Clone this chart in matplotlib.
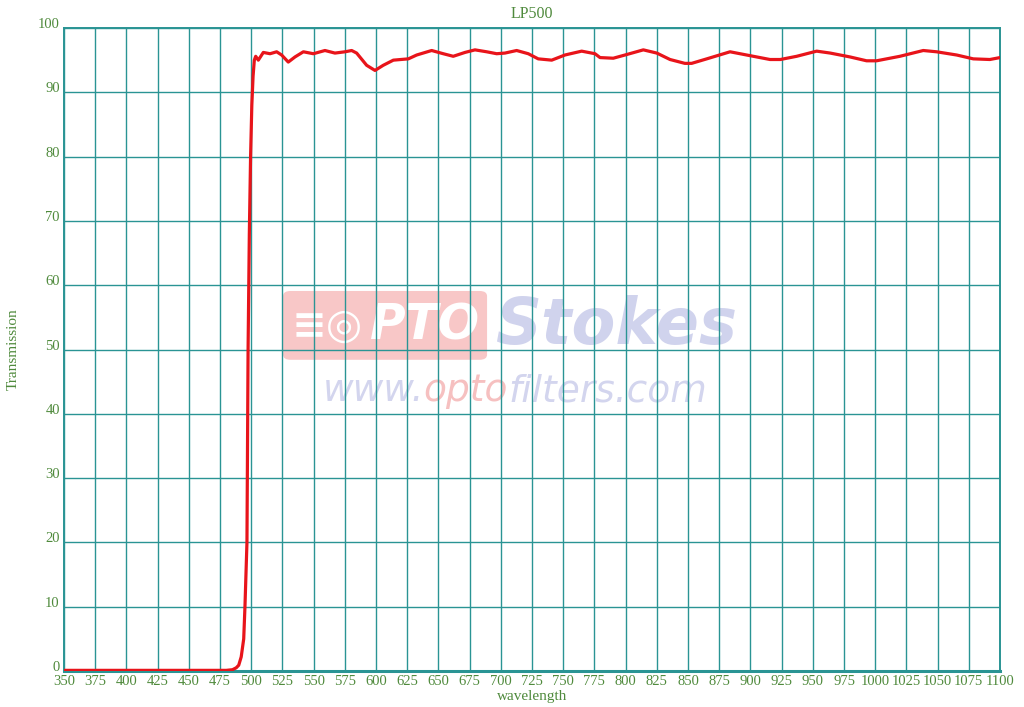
import numpy as np
import matplotlib
matplotlib.use("Agg")
import matplotlib.pyplot as plt
from matplotlib.patches import FancyBboxPatch

# transmission curve
wavelength = [350, 400, 450, 480, 485, 488, 490, 492, 494, 495,
              496.6, 497.5, 498.5, 499.5, 500.5, 501.5, 502.5, 503.6, 505.7, 509.7,
              515.1, 520.4, 524.4, 529.7, 535.1, 541.8, 549.8, 559.1, 567.1, 575.2,
              580.5, 584.5, 592.5, 599.2, 605.8, 613.9, 625.9, 632.6, 644.6, 653.9,
              661.9, 671.3, 679.3, 688.7, 696.7, 703.3, 712.7, 722.0, 730.0, 740.8,
              751.4, 764.8, 775.5, 779.5, 790.1, 799.5, 814.2, 825, 835.6, 847.5,
              852.9, 865.0, 883.7, 897.0, 915.7, 924, 937.1, 953.1, 964, 979.8,
              993.1, 1001.1, 1019.8, 1038.5, 1049.2, 1065.3, 1078.6, 1091.9, 1100]
transmission = [0.1, 0.1, 0.1, 0.1, 0.2, 0.5, 0.9, 2.2, 5.0, 10.0,
                20.0, 50.0, 68.0, 80.0, 88.0, 92.5, 95.0, 95.6, 95.0, 96.2,
                96.0, 96.3, 95.8, 94.7, 95.5, 96.3, 96.0, 96.5, 96.1, 96.3,
                96.5, 96.1, 94.2, 93.4, 94.2, 95.0, 95.2, 95.8, 96.5, 96.0,
                95.6, 96.2, 96.6, 96.3, 96.0, 96.1, 96.5, 96.0, 95.2, 95.0,
                95.8, 96.4, 96.0, 95.4, 95.3, 95.8, 96.6, 96.1, 95.1, 94.5,
                94.5, 95.2, 96.3, 95.8, 95.1, 95.1, 95.6, 96.4, 96.1, 95.5,
                94.9, 94.9, 95.6, 96.5, 96.3, 95.8, 95.2, 95.1, 95.4]

xticks = list(range(350, 1101, 25))
yticks = list(range(0, 101, 10))

grid_col = "#2a9494"
text_col = "#4f8a3c"
serif = ["Liberation Serif", "DejaVu Serif"]

fig = plt.figure(figsize=(10.24, 7.07), dpi=100)
ax = fig.add_axes([64/1024, 36/707, 936/1024, 643/707])

ax.plot(wavelength, transmission, color="#e8141a", lw=2.3, zorder=3)

ax.set_xlim(350, 1100)
ax.set_ylim(0, 100)
ax.set_xticks(xticks)
ax.set_yticks(yticks)
ax.set_xticklabels([str(v) for v in xticks], fontfamily=serif, fontsize=10.5, color=text_col)
ax.set_yticklabels([str(v) for v in yticks], fontfamily=serif, fontsize=10.5, color=text_col, va="baseline")
ax.tick_params(length=0, pad=3)
ax.grid(True, color=grid_col, lw=1.0)
ax.set_axisbelow(True)
for s in ax.spines.values():
    s.set_color(grid_col)
    s.set_linewidth(1.4)
ax.spines["bottom"].set_linewidth(2.2)

ax.set_title("LP500", fontfamily=serif, fontsize=11.5, color=text_col, pad=7)
ax.set_xlabel("wavelength", fontfamily=serif, fontsize=11, color=text_col, labelpad=1)
ax.set_ylabel("Transmission", fontfamily=serif, fontsize=11, color=text_col, labelpad=13)

# watermark
box = FancyBboxPatch((0.234, 0.484), 0.218, 0.107, transform=ax.transAxes,
                     boxstyle="round,pad=0,rounding_size=0.008",
                     fc="#f7b9b9", ec="none", alpha=0.8, zorder=0.1)
ax.add_patch(box)
ax.text(0.243, 0.537, "≡◎", transform=ax.transAxes, fontsize=30, color="white",
        va="center", ha="left", zorder=0.2, fontweight="bold")
ax.text(0.327, 0.537, "PTO", transform=ax.transAxes, fontsize=35, color="white",
        va="center", ha="left", zorder=0.2, fontweight="bold", fontstyle="italic")
ax.text(0.461, 0.537, "Stokes", transform=ax.transAxes, fontsize=46, color="#d0d3ed",
        va="center", ha="left", zorder=0.2, fontweight="bold", fontstyle="italic")

fig.canvas.draw()
r = fig.canvas.get_renderer()
x0 = 0.276
parts = [("www.", "#d3d5ee"), ("opto", "#f6c0c0"), ("filters.com", "#d3d5ee")]
inv = ax.transAxes.inverted()
for s, c in parts:
    t = ax.text(x0, 0.435, s, transform=ax.transAxes, fontsize=27, color=c,
                va="center", ha="left", zorder=0.2, fontstyle="italic")
    bb = t.get_window_extent(renderer=r)
    x0 = inv.transform((bb.x1, bb.y0))[0]

fig.savefig("out.png", dpi=100)
